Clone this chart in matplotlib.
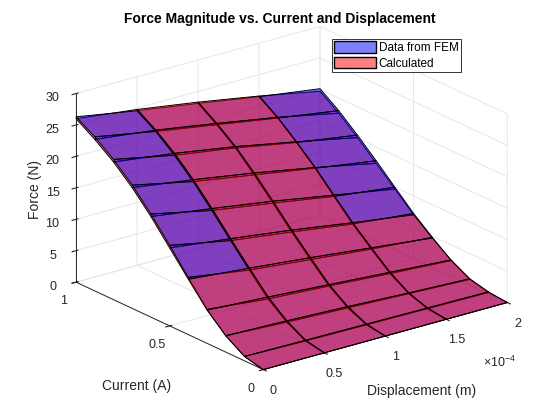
import numpy as np
import matplotlib.pyplot as plt
from matplotlib.patches import Patch
from mpl_toolkits.mplot3d.art3d import Poly3DCollection

plt.rcParams['font.family'] = ['Liberation Sans', 'DejaVu Sans']
plt.rcParams['mathtext.default'] = 'regular'

# grid of the surfaces
displacement = np.array([0.0, 0.5e-4, 1.0e-4, 1.5e-4, 2.0e-4])   # m
current = np.array([0.0, 0.1, 0.2, 0.3, 0.4, 0.5, 0.6, 0.7, 0.8, 0.9, 1.0])  # A

# force, rows = current, cols = displacement
force_calc = np.array([
    [0.0, 0.0, 0.0, 0.0, 0.0],
    [0.7, 0.6, 0.5, 0.4, 0.3],
    [2.6, 2.3, 1.9, 1.4, 1.0],
    [5.3, 4.7, 4.0, 3.3, 2.6],
    [8.8, 7.9, 6.9, 5.8, 4.7],
    [12.4, 11.2, 9.9, 8.4, 7.0],
    [16.0, 14.6, 13.1, 11.4, 9.7],
    [19.2, 17.8, 16.2, 14.4, 12.4],
    [21.9, 20.6, 19.0, 17.1, 15.1],
    [24.1, 22.9, 21.3, 19.6, 17.6],
    [26.0, 24.8, 23.3, 21.6, 19.7],
])

force_fem = np.array([
    [0.0, 0.0, 0.0, 0.0, 0.0],
    [0.7, 0.5, 0.4, 0.3, 0.2],
    [2.6, 2.1, 1.7, 1.3, 0.9],
    [5.4, 4.4, 3.8, 3.1, 2.5],
    [9.1, 7.6, 6.6, 5.6, 4.8],
    [12.8, 10.9, 9.6, 8.2, 7.2],
    [16.4, 14.3, 12.8, 11.2, 10.0],
    [19.6, 17.5, 15.9, 14.3, 12.8],
    [22.3, 20.3, 18.8, 17.0, 15.5],
    [24.5, 22.7, 21.1, 19.5, 18.0],
    [26.3, 24.6, 23.1, 21.5, 20.1],
])

blue = (0, 0, 1, 0.5)
red = (1, 0, 0, 0.5)


def quads(x, y, z):
    out = []
    for i in range(len(y) - 1):
        for j in range(len(x) - 1):
            out.append([(x[j], y[i], z[i, j]), (x[j + 1], y[i], z[i, j + 1]),
                        (x[j + 1], y[i + 1], z[i + 1, j + 1]), (x[j], y[i + 1], z[i + 1, j])])
    return out


fig = plt.figure(figsize=(5.6, 4.2), dpi=100)
ax = fig.add_axes([0.125, 0.11, 0.775, 0.815], projection='3d')
ax.set_proj_type('ortho')
ax.view_init(elev=21, azim=-127.5)
ax.set_box_aspect((1, 1, 0.657), zoom=1.36)

# both surfaces in one collection so the faces get depth sorted together
q_fem = quads(displacement, current, force_fem)
q_calc = quads(displacement, current, force_calc)
faces = q_fem + q_calc
colors = [blue] * len(q_fem) + [red] * len(q_calc)
coll = Poly3DCollection(faces, facecolors=colors, edgecolors='k', linewidths=0.7)
ax.add_collection3d(coll)
coll.set_clip_on(False)

ax.set_xlim(0, 2e-4)
ax.set_ylim(0, 1)
ax.set_zlim(0, 30)
ax.set_xticks(displacement)
ax.set_xticklabels(['0', '0.5', '1', '1.5', '2'])
ax.set_yticks([0, 0.5, 1])
ax.set_yticklabels(['0', '0.5', '1'])
ax.set_zticks(np.arange(0, 31, 5))

for a in (ax.xaxis, ax.yaxis, ax.zaxis):
    a.set_pane_color((1, 1, 1, 0))
    a.pane.set_edgecolor('#dcdcdc')
    a._axinfo['grid']['color'] = '#e3e3e3'
    a._axinfo['grid']['linewidth'] = 0.6
    a.line.set_color('#262626')
    a.line.set_linewidth(0.7)
ax.tick_params(labelsize=9, colors='#262626')
ax.xaxis.set_tick_params(pad=-1)
ax.yaxis.set_tick_params(pad=-1.5)
ax.zaxis.set_tick_params(pad=-1)

fig.text(0.5, 0.955, 'Force Magnitude vs. Current and Displacement',
         ha='center', va='center', fontsize=10, fontweight='bold')
fig.text(0.752, 0.069, 'Displacement (m)', ha='center', va='center', fontsize=10, color='#262626')
fig.text(0.243, 0.081, 'Current (A)', ha='center', va='center', fontsize=10, color='#262626')
fig.text(0.063, 0.548, 'Force (N)', ha='center', va='center', fontsize=10,
         rotation=90, color='#262626')
fig.text(0.862, 0.138, r'$\times10^{-4}$', ha='left', va='center', fontsize=9, color='#262626')

handles = [Patch(facecolor=blue, edgecolor='k', label='Data from FEM'),
           Patch(facecolor=red, edgecolor='k', label='Calculated')]
leg = fig.legend(handles=handles, loc='upper left', bbox_to_anchor=(0.593, 0.907),
                 fontsize=8.5, frameon=True, fancybox=False, edgecolor='k',
                 handlelength=3.5, handleheight=1.1, borderpad=0.2,
                 labelspacing=0.25, handletextpad=0.25, borderaxespad=0)
leg.get_frame().set_linewidth(0.7)

fig.savefig('out.png', dpi=100)
